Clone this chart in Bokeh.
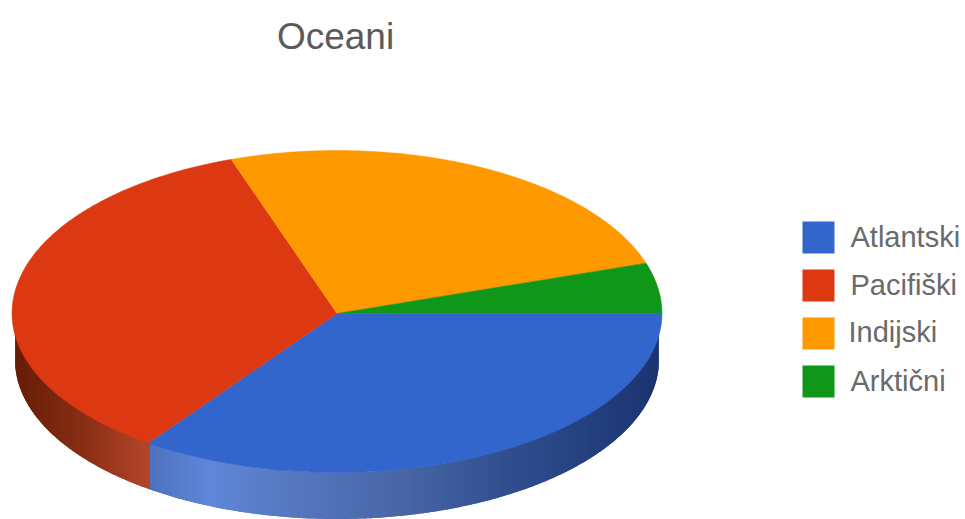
import numpy as np
from bokeh.plotting import figure
from bokeh.core.properties import value
from bokeh.embed import file_html
from bokeh.resources import INLINE

title_text = "Oceani"
categories = ["Atlantski", "Pacifiški", "Indijski", "Arktični"]
values = [125.5, 125.5, 91.0, 18.0]
colors = ["#3366CC", "#DC3912", "#FF9900", "#109618"]

CX, CY, RX, RY_UP, RY_DOWN, DEPTH = 336.5, 313, 325, 163, 159, 46.5
SIDE_RX = 322
side_stops = {
    0: ([150, 210, 290, 400, 520, 662],
        [(78, 114, 192), (95, 134, 216), (86, 120, 192), (72, 102, 166), (46, 76, 140), (26, 51, 112)]),
    1: ([12, 80, 150], [(100, 28, 5), (135, 45, 20), (180, 70, 42)]),
}


def ry(t):
    return np.where(np.sin(t) >= 0, RY_DOWN, RY_UP)


p = figure(width=965, height=519, x_range=(0, 965), y_range=(519, 0),
           output_backend="svg", toolbar_location=None, min_border=0)
p.axis.visible = False
p.grid.visible = False
p.outline_line_color = None
p.background_fill_color = "white"
p.border_fill_color = "white"

fracs = np.cumsum([0.0] + values) / sum(values) * 2 * np.pi
edges = list(zip(fracs[:-1], fracs[1:]))

# side wall: only the near half of the pie shows; strips overlap to hide seams
xs, ys, cs = [], [], []
for i, (a0, a1) in enumerate(edges):
    hi = min(a1, np.pi)
    if a0 >= hi or i not in side_stops:
        continue
    ts = np.arange(a0, hi, np.radians(1.0))
    ts = np.append(ts, hi)
    sx, sc = side_stops[i]
    sc = np.array(sc, float)
    for k in range(len(ts) - 1):
        sub = np.linspace(ts[k], ts[min(k + 2, len(ts) - 1)], 5)
        ex = CX + SIDE_RX * np.cos(sub)
        ey = CY + RY_DOWN * np.sin(sub)
        xm = CX + SIDE_RX * np.cos((ts[k] + ts[k + 1]) / 2)
        col = [int(round(np.interp(xm, sx, sc[:, j]))) for j in range(3)]
        xs.append(list(ex) + list(ex[::-1]))
        ys.append(list(ey) + list(ey[::-1] + DEPTH))
        cs.append("#%02x%02x%02x" % tuple(col))
p.patches(xs, ys, fill_color=cs, line_color=None)

# top face
for (a0, a1), c in zip(edges, colors):
    ts = np.linspace(a0, a1, 200)
    px = np.r_[CX, CX + RX * np.cos(ts)]
    py = np.r_[CY, CY + ry(ts) * np.sin(ts)]
    p.patch(px, py, fill_color=c, line_color=c, line_width=0.5)

# title
p.text([335], [36], text=[title_text], text_font=value("Liberation Sans"), text_font_size="37px",
       text_color="#5a5a5a", text_align="center", text_baseline="middle")

# legend
leg_y = [237, 285, 333, 381]
txt_y = [236, 284, 331, 380]
txt_x = [850, 850, 848, 850]
p.rect([818] * 4, leg_y, width=32, height=32, fill_color=colors, line_color=None)
p.text(txt_x, txt_y, text=categories, text_font=value("Liberation Sans"), text_font_size="29px",
       text_color="#6a6a6a", text_align="left", text_baseline="middle")

open("out.html", "w").write(file_html(p, INLINE))
